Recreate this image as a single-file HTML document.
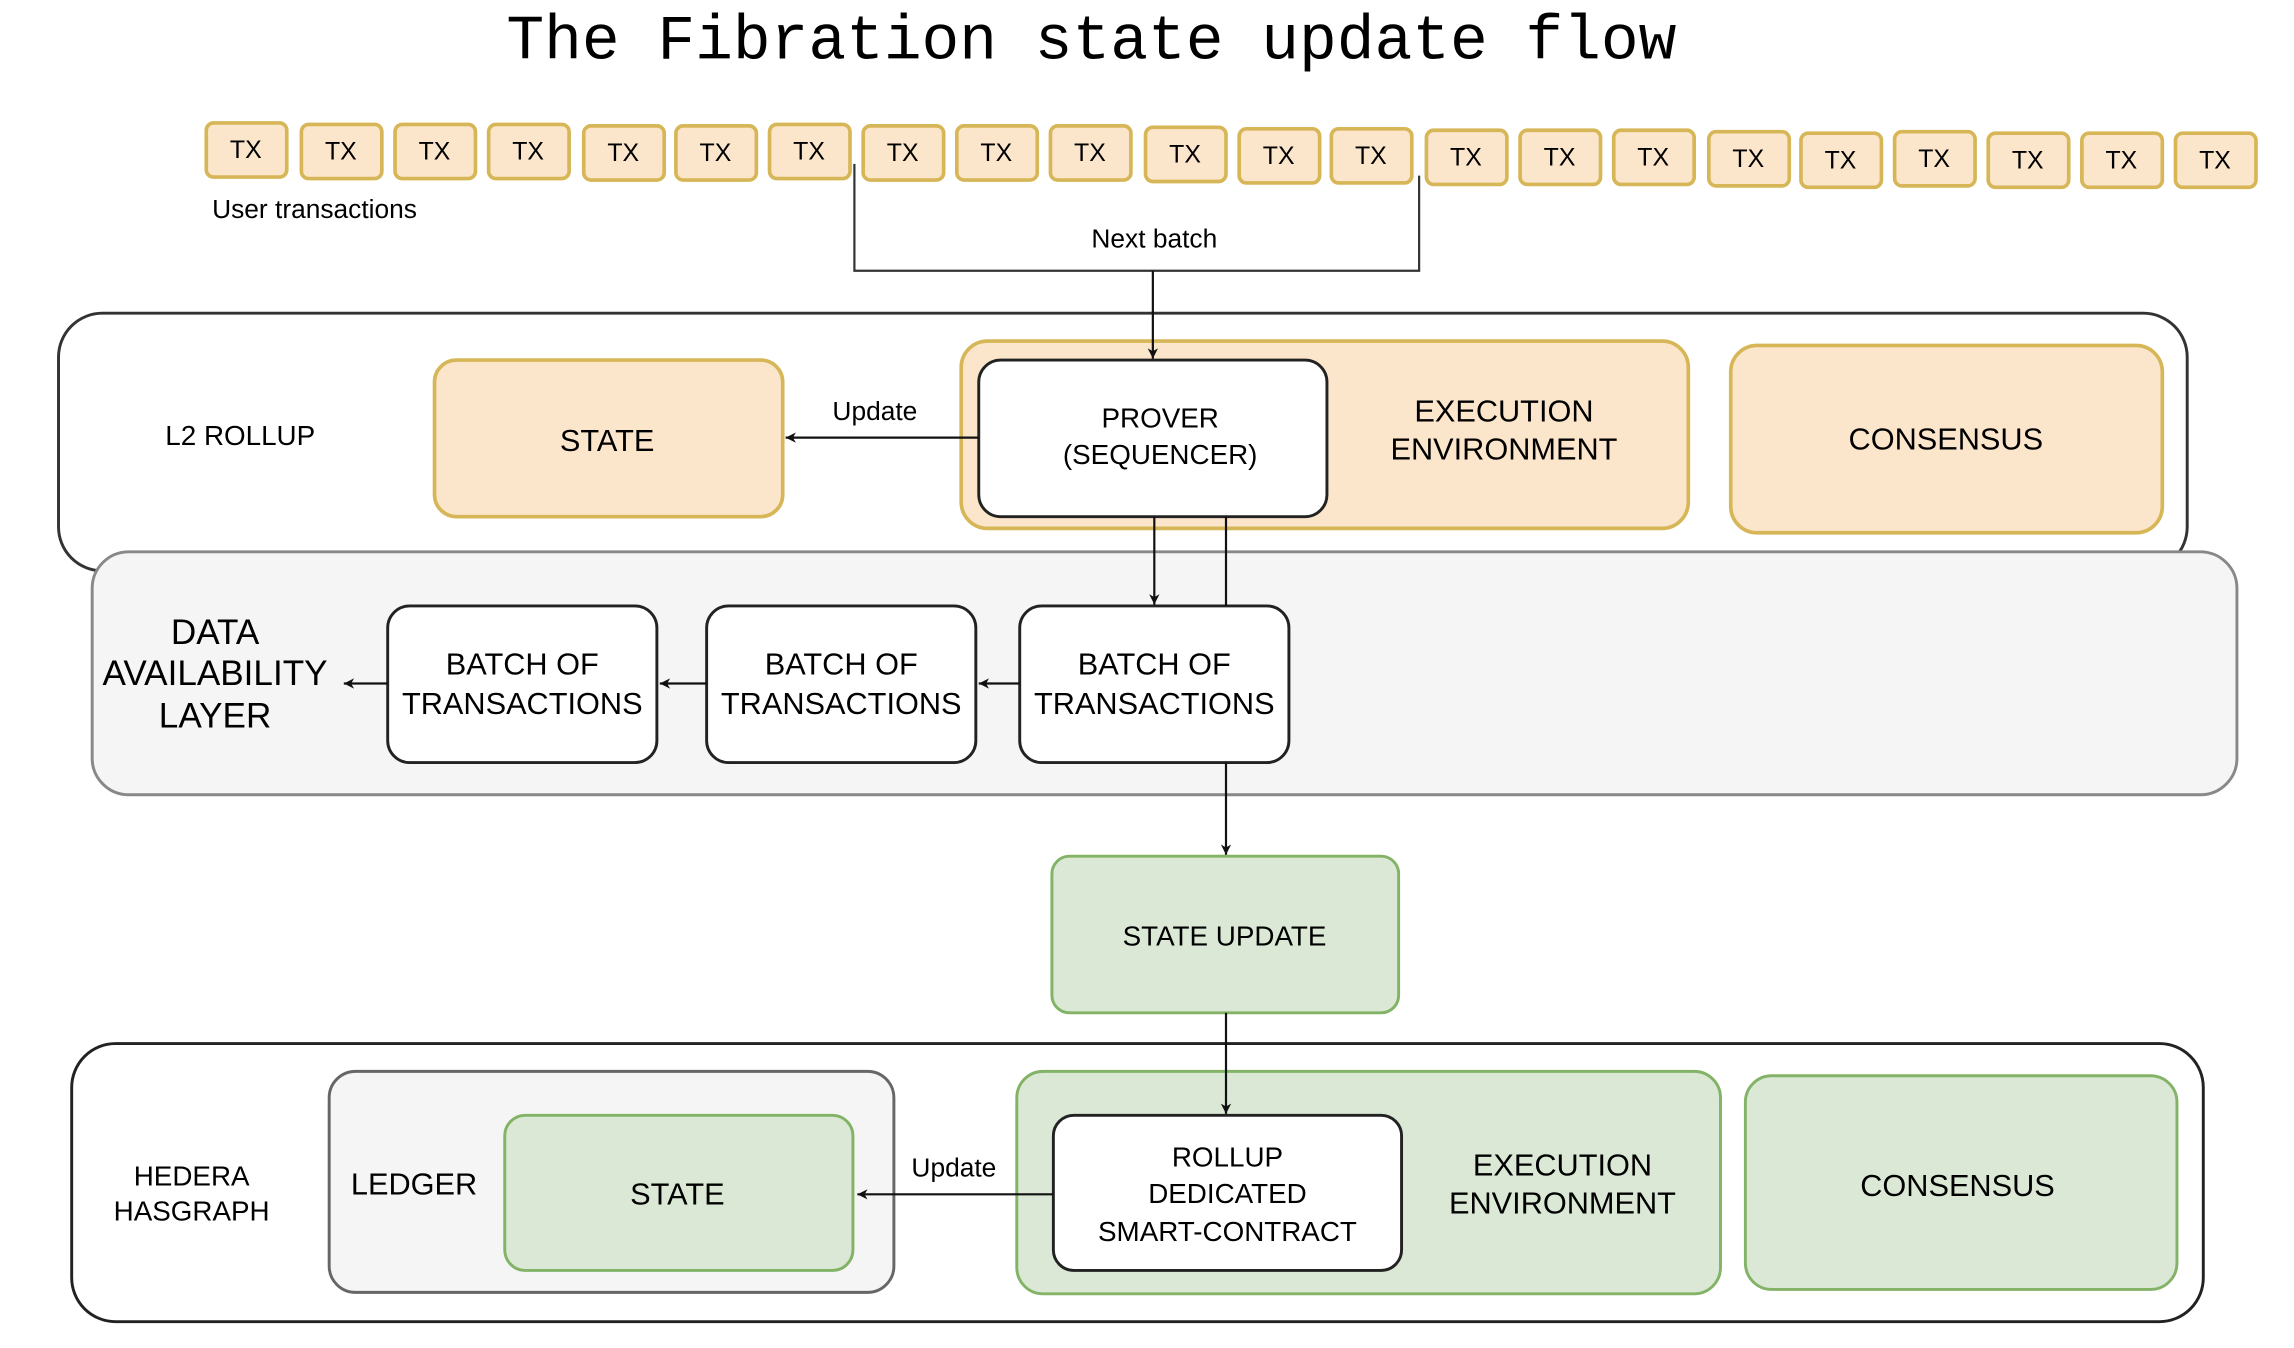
<!DOCTYPE html>
<html><head><meta charset="utf-8"><style>html,body{margin:0;padding:0;background:#fff}svg{display:block}</style></head>
<body>
<svg width="2294" height="1348" viewBox="0 0 1568 921" preserveAspectRatio="none" xmlns="http://www.w3.org/2000/svg" font-family="Liberation Sans, sans-serif" fill="#000">
<defs><marker id="a" markerWidth="8" markerHeight="8" refX="7" refY="4" orient="auto" markerUnits="userSpaceOnUse"><path d="M0,0.5 L7,4 L0,7.5 L2,4 Z" fill="#111"/></marker></defs>
<text x="746" y="40" font-family="Liberation Mono, monospace" font-size="43" text-anchor="middle">The Fibration state update flow</text>
<g fill="#fbe5cb" stroke="#d6b656" stroke-width="2.5">
<rect x="141" y="84" width="55" height="37" rx="5"/><rect x="206" y="85" width="55" height="37" rx="5"/><rect x="270" y="85" width="55" height="37" rx="5"/><rect x="334" y="85" width="55" height="37" rx="5"/><rect x="399" y="86" width="55" height="37" rx="5"/><rect x="462" y="86" width="55" height="37" rx="5"/><rect x="526" y="85" width="55" height="37" rx="5"/><rect x="590" y="86" width="55" height="37" rx="5"/><rect x="654" y="86" width="55" height="37" rx="5"/><rect x="718" y="86" width="55" height="37" rx="5"/><rect x="783" y="87" width="55" height="37" rx="5"/><rect x="847" y="88" width="55" height="37" rx="5"/><rect x="910" y="88" width="55" height="37" rx="5"/><rect x="975" y="89" width="55" height="37" rx="5"/><rect x="1039" y="89" width="55" height="37" rx="5"/><rect x="1103" y="89" width="55" height="37" rx="5"/><rect x="1168" y="90" width="55" height="37" rx="5"/><rect x="1231" y="91" width="55" height="37" rx="5"/><rect x="1295" y="90" width="55" height="37" rx="5"/><rect x="1359" y="91" width="55" height="37" rx="5"/><rect x="1423" y="91" width="55" height="37" rx="5"/><rect x="1487" y="91" width="55" height="37" rx="5"/>
</g>
<g font-size="17" text-anchor="middle">
<text x="168" y="108">TX</text><text x="233" y="109">TX</text><text x="297" y="109">TX</text><text x="361" y="109">TX</text><text x="426" y="110">TX</text><text x="489" y="110">TX</text><text x="553" y="109">TX</text><text x="617" y="110">TX</text><text x="681" y="110">TX</text><text x="745" y="110">TX</text><text x="810" y="111">TX</text><text x="874" y="112">TX</text><text x="937" y="112">TX</text><text x="1002" y="113">TX</text><text x="1066" y="113">TX</text><text x="1130" y="113">TX</text><text x="1195" y="114">TX</text><text x="1258" y="115">TX</text><text x="1322" y="114">TX</text><text x="1386" y="115">TX</text><text x="1450" y="115">TX</text><text x="1514" y="115">TX</text>
</g>
<text x="145" y="149" font-size="18">User transactions</text>
<path d="M584,112 V185 H970 V120" fill="none" stroke="#333" stroke-width="1.5"/>
<text x="789" y="169" font-size="18" text-anchor="middle">Next batch</text>
<rect x="40" y="214" width="1455" height="176" rx="30" fill="#fff" stroke="#333" stroke-width="2"/>
<text x="113" y="304" font-size="19">L2 ROLLUP</text>
<rect x="297" y="246" width="238" height="107" rx="15" fill="#fbe5cb" stroke="#d6b656" stroke-width="2.5"/>
<text x="415" y="308" font-size="21" text-anchor="middle">STATE</text>
<rect x="657" y="233" width="497" height="128" rx="18" fill="#fbe5cb" stroke="#d6b656" stroke-width="2.5"/>
<text x="1028" y="288" font-size="21" text-anchor="middle">EXECUTION</text>
<text x="1028" y="314" font-size="21" text-anchor="middle">ENVIRONMENT</text>
<rect x="669" y="246" width="238" height="107" rx="15" fill="#fff" stroke="#222" stroke-width="2"/>
<text x="793" y="292" font-size="19" text-anchor="middle">PROVER</text>
<text x="793" y="317" font-size="19" text-anchor="middle">(SEQUENCER)</text>
<line x1="669" y1="299" x2="537" y2="299" stroke="#111" stroke-width="1.5" marker-end="url(#a)"/>
<text x="598" y="287" font-size="18" text-anchor="middle">Update</text>
<rect x="1183" y="236" width="295" height="128" rx="18" fill="#fbe5cb" stroke="#d6b656" stroke-width="2.5"/>
<text x="1330" y="307" font-size="21" text-anchor="middle">CONSENSUS</text>
<rect x="63" y="377" width="1466" height="166" rx="25" fill="#f5f5f5" stroke="#888" stroke-width="2"/>
<g font-size="24" text-anchor="middle"><text x="147" y="440">DATA</text><text x="147" y="468">AVAILABILITY</text><text x="147" y="497">LAYER</text></g>
<g fill="#fff" stroke="#222" stroke-width="2">
<rect x="265" y="414" width="184" height="107" rx="15"/><rect x="483" y="414" width="184" height="107" rx="15"/><rect x="697" y="414" width="184" height="107" rx="15"/></g>
<g font-size="21" text-anchor="middle">
<text x="357" y="461">BATCH OF</text><text x="357" y="488">TRANSACTIONS</text>
<text x="575" y="461">BATCH OF</text><text x="575" y="488">TRANSACTIONS</text>
<text x="789" y="461">BATCH OF</text><text x="789" y="488">TRANSACTIONS</text></g>
<rect x="719" y="585" width="237" height="107" rx="12" fill="#dae8d5" stroke="#82b366" stroke-width="2"/>
<text x="837" y="646" font-size="19" text-anchor="middle">STATE UPDATE</text>
<rect x="49" y="713" width="1457" height="190" rx="30" fill="#fff" stroke="#222" stroke-width="2"/>
<text x="131" y="810" font-size="19" text-anchor="middle">HEDERA</text>
<text x="131" y="834" font-size="19" text-anchor="middle">HASGRAPH</text>
<rect x="225" y="732" width="386" height="151" rx="18" fill="#f5f5f5" stroke="#666" stroke-width="2"/>
<text x="283" y="816" font-size="21" text-anchor="middle">LEDGER</text>
<rect x="345" y="762" width="238" height="106" rx="14" fill="#dae8d5" stroke="#82b366" stroke-width="2"/>
<text x="463" y="823" font-size="21" text-anchor="middle">STATE</text>
<rect x="695" y="732" width="481" height="152" rx="18" fill="#dae8d5" stroke="#82b366" stroke-width="2"/>
<text x="1068" y="803" font-size="21" text-anchor="middle">EXECUTION</text>
<text x="1068" y="829" font-size="21" text-anchor="middle">ENVIRONMENT</text>
<rect x="720" y="762" width="238" height="106" rx="14" fill="#fff" stroke="#222" stroke-width="2"/>
<g font-size="19" text-anchor="middle"><text x="839" y="797">ROLLUP</text><text x="839" y="822">DEDICATED</text><text x="839" y="848">SMART-CONTRACT</text></g>
<line x1="720" y1="816" x2="586" y2="816" stroke="#111" stroke-width="1.5" marker-end="url(#a)"/>
<text x="652" y="804" font-size="18" text-anchor="middle">Update</text>
<rect x="1193" y="735" width="295" height="146" rx="18" fill="#dae8d5" stroke="#82b366" stroke-width="2"/>
<text x="1338" y="817" font-size="21" text-anchor="middle">CONSENSUS</text>
<g stroke="#111" stroke-width="1.5" marker-end="url(#a)">
<line x1="788" y1="185" x2="788" y2="245"/>
<line x1="697" y1="467" x2="669" y2="467"/><line x1="483" y1="467" x2="451" y2="467"/><line x1="265" y1="467" x2="235" y2="467"/>
<line x1="789" y1="353" x2="789" y2="413"/><line x1="838" y1="521" x2="838" y2="584"/><line x1="838" y1="692" x2="838" y2="761"/></g>
<line x1="838" y1="353" x2="838" y2="414" stroke="#111" stroke-width="1.5"/>
</svg>
</body></html>
